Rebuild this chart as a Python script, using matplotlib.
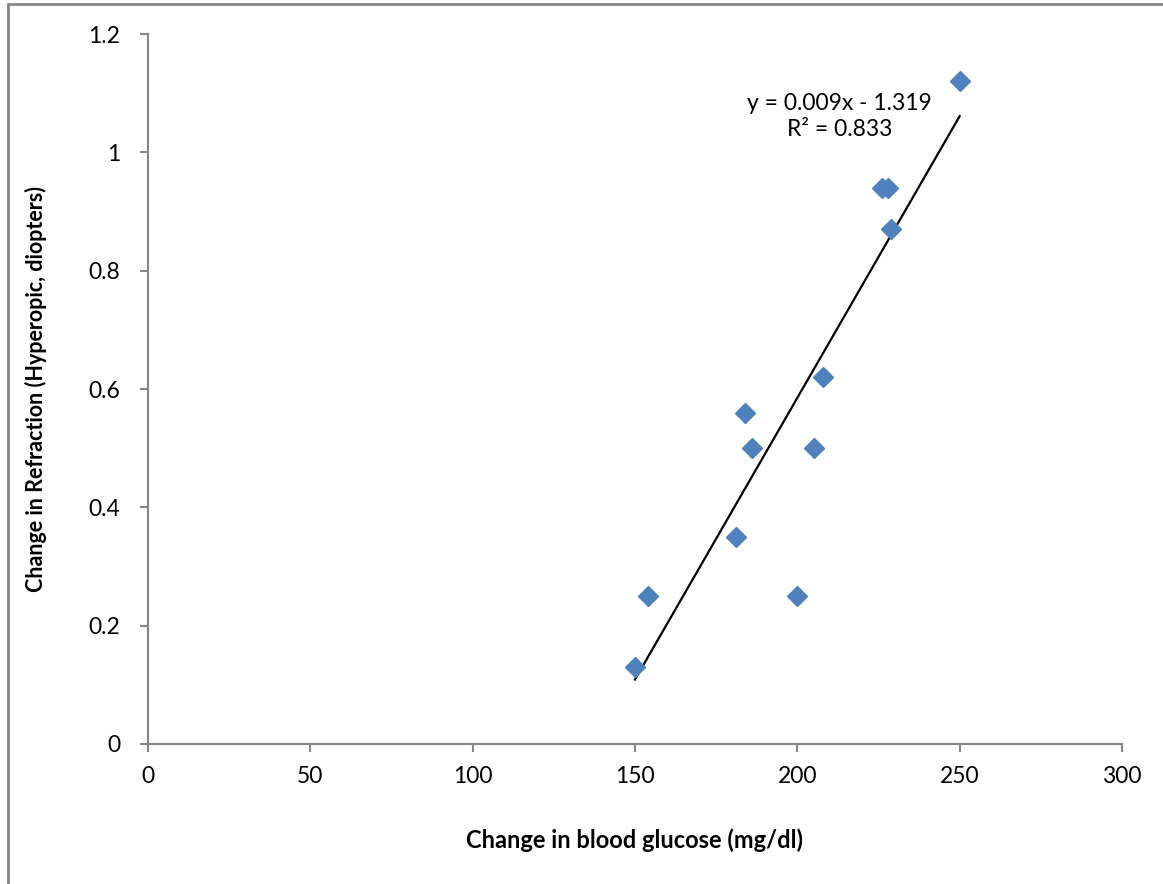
#Refraction change vs blood glucose change, scatter with linear trend line

import numpy as np
import matplotlib.pyplot as plt
from matplotlib.patches import Rectangle

#Data
glucose = [150, 154, 181, 184, 186, 200, 205, 208, 226, 228, 229, 250]
refraction = [0.13, 0.25, 0.35, 0.56, 0.50, 0.25, 0.50, 0.62, 0.94, 0.94, 0.87, 1.12]
x_ticks = [0, 50, 100, 150, 200, 250, 300]
y_ticks = [0, 0.2, 0.4, 0.6, 0.8, 1, 1.2]
y_tick_labels = ["0", "0.2", "0.4", "0.6", "0.8", "1", "1.2"]
equation_text = "y = 0.009x - 1.319\nR\u00b2 = 0.833"

plt.rcParams['font.family'] = ['Lato', 'DejaVu Sans']
grey = '#868686'

fig = plt.figure(figsize=(11.63, 8.84), dpi=100)
ax = fig.add_axes([0.1273, 0.1584, 0.8374, 0.8031])

#Outer chart frame (runs off the right and bottom edges)
fig.patches.append(Rectangle((8/1163, -0.05), 1.2, 1 - 4/884 + 0.05,
                             transform=fig.transFigure, fill=False,
                             edgecolor=grey, linewidth=2))

#Scatter points
ax.plot(glucose, refraction, linestyle='none', marker='D', markersize=10,
        color='#4F81BD', zorder=3)

#Linear trend line over the data range
slope, intercept = np.polyfit(glucose, refraction, 1)
xs = np.array([min(glucose), max(glucose)])
ax.plot(xs, slope*xs + intercept, color='black', linewidth=1.6, zorder=2)

ax.text(213, 1.06, equation_text, ha='center', va='center', fontsize=16.5,
        linespacing=1.3)

ax.set_xlim(0, 300)
ax.set_ylim(0, 1.2)
ax.set_xticks(x_ticks)
ax.set_yticks(y_ticks)
ax.set_yticklabels(y_tick_labels)

for side in ['top', 'right']:
    ax.spines[side].set_visible(False)
for side in ['left', 'bottom']:
    ax.spines[side].set_color(grey)
    ax.spines[side].set_linewidth(1.5)

ax.tick_params(axis='both', direction='out', length=6, width=1.5, color=grey,
               labelsize=16.5, pad=10)
ax.tick_params(axis='y', pad=14)

ax.set_xlabel("Change in blood glucose (mg/dl)", fontsize=17, fontweight='bold',
              labelpad=30)
ax.set_ylabel("Change in Refraction (Hyperopic, diopters)", fontsize=15.5,
              fontweight='bold', labelpad=30)

fig.savefig('out.png', dpi=100)
